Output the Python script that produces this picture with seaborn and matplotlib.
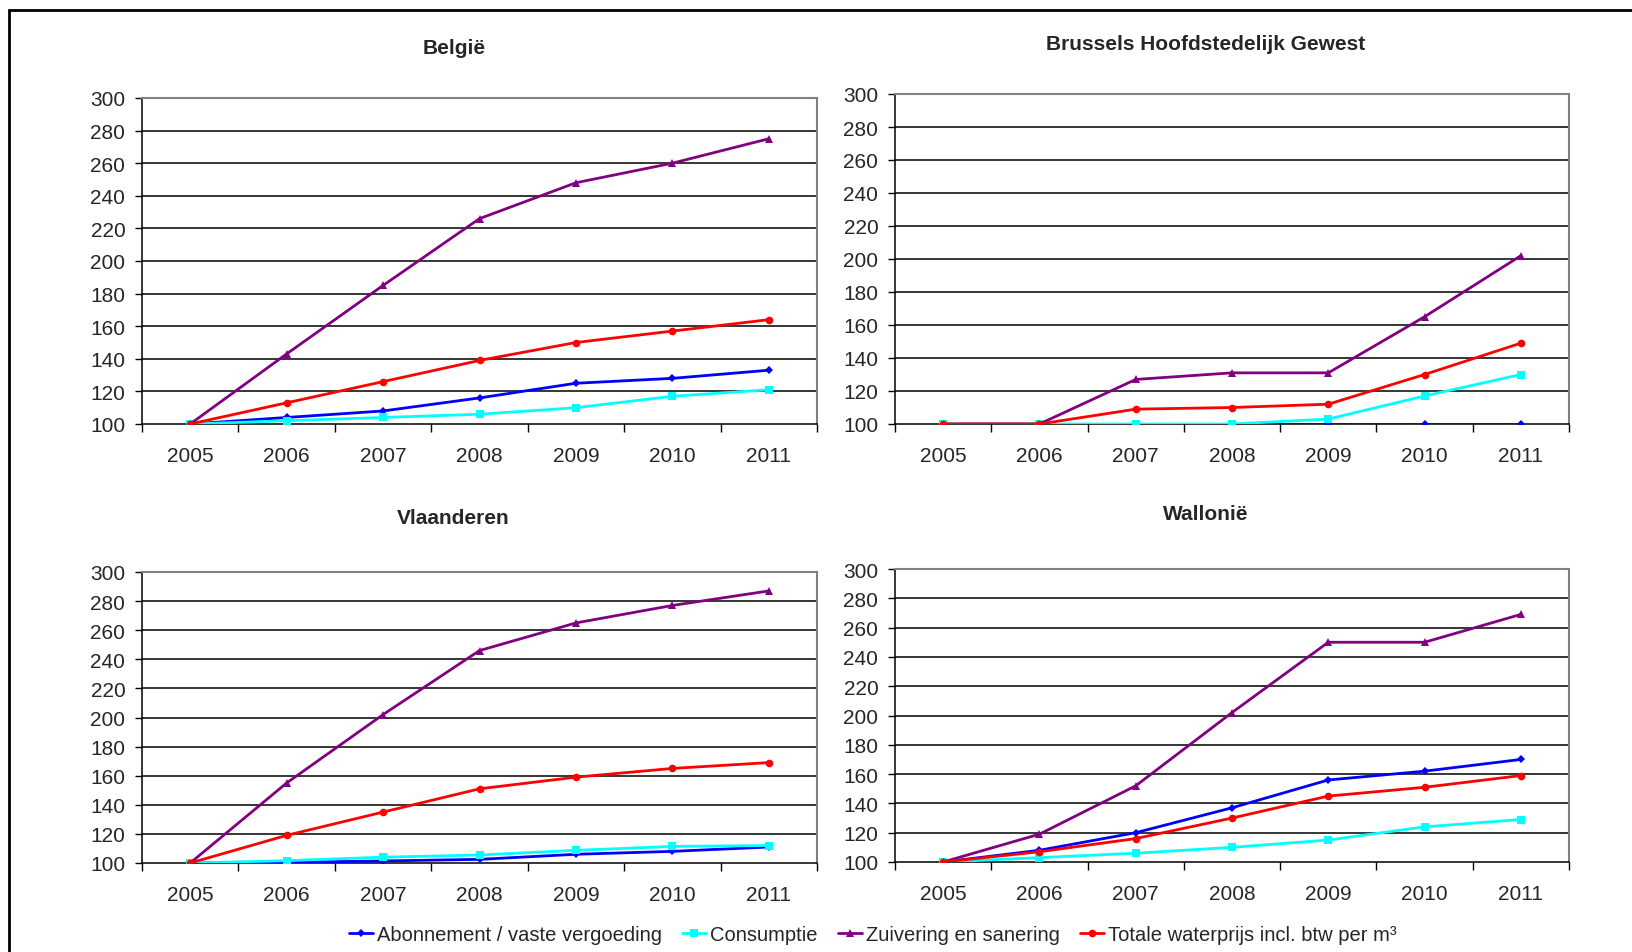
import matplotlib
matplotlib.use("Agg")
import matplotlib.pyplot as plt
from matplotlib.patches import Rectangle
from matplotlib.lines import Line2D
import numpy as np
import pandas as pd
import seaborn as sns

# Index 2005 = 100
years = [2005, 2006, 2007, 2008, 2009, 2010, 2011]
series_names = [
    "Abonnement / vaste vergoeding",
    "Consumptie",
    "Zuivering en sanering",
    "Totale waterprijs incl. btw per m³",
]
regions = ["België", "Brussels Hoofdstedelijk Gewest", "Vlaanderen", "Wallonië"]

belgie_abonnement = [100, 104, 108, 116, 125, 128, 133]
belgie_consumptie = [100, 102, 104, 106, 110, 117, 121]
belgie_zuivering = [100, 143, 185, 226, 248, 260, 275]
belgie_totaal = [100, 113, 126, 139, 150, 157, 164]

brussel_abonnement = [100, 100, 100, 100, 100, 100, 100]
brussel_consumptie = [100, 100, 100, 100, 103, 117, 130]
brussel_zuivering = [100, 100, 127, 131, 131, 165, 202]
brussel_totaal = [100, 100, 109, 110, 112, 130, 149]

vlaanderen_abonnement = [100, 100.5, 101.4, 102.5, 106, 108, 111]
vlaanderen_consumptie = [100, 101.6, 104, 105.5, 108.7, 111.4, 112]
vlaanderen_zuivering = [100, 155, 202, 246, 265, 277, 287]
vlaanderen_totaal = [100, 119, 135, 151, 159, 165, 169]

wallonie_abonnement = [100, 108, 120, 137, 156, 162, 170]
wallonie_consumptie = [100, 103, 106, 110, 115, 124, 129]
wallonie_zuivering = [100, 119, 152, 202, 250, 250, 269]
wallonie_totaal = [100, 107, 116, 130, 145, 151, 159]

region_values = {
    "België": [belgie_abonnement, belgie_consumptie, belgie_zuivering, belgie_totaal],
    "Brussels Hoofdstedelijk Gewest": [brussel_abonnement, brussel_consumptie, brussel_zuivering, brussel_totaal],
    "Vlaanderen": [vlaanderen_abonnement, vlaanderen_consumptie, vlaanderen_zuivering, vlaanderen_totaal],
    "Wallonië": [wallonie_abonnement, wallonie_consumptie, wallonie_zuivering, wallonie_totaal],
}

colors = ["#0000FF", "#00FFFF", "#800080", "#FF0000"]
markers = ["D", "s", "^", "o"]
marker_sizes = [4, 6, 5.5, 5.5]

rows = []
for reg in regions:
    for name, vals in zip(series_names, region_values[reg]):
        for y, v in zip(years, vals):
            rows.append({"regio": reg, "reeks": name, "jaar": y, "index": v})
df = pd.DataFrame(rows)

sns.set_theme(style="white")
plt.rcParams["font.family"] = ["Liberation Sans", "DejaVu Sans"]

W, H = 1633, 953
fig = plt.figure(figsize=(W / 100, H / 100), dpi=100)

# axes rectangles in pixels: left, top, right, bottom
boxes = {
    "België": (142, 99, 817, 425),
    "Brussels Hoofdstedelijk Gewest": (895, 95, 1569, 425),
    "Vlaanderen": (142, 573, 817, 864),
    "Wallonië": (895, 570, 1569, 863),
}
title_pos = {
    "België": (454, 48),
    "Brussels Hoofdstedelijk Gewest": (1206, 45),
    "Vlaanderen": (453, 518),
    "Wallonië": (1206, 514),
}

palette = dict(zip(series_names, colors))
marker_map = dict(zip(series_names, markers))

for reg in regions:
    l, t, r, b = boxes[reg]
    ax = fig.add_axes([l / W, 1 - b / H, (r - l) / W, (b - t) / H])
    sub = df[df["regio"] == reg]
    for name, ms in zip(series_names, marker_sizes):
        sns.lineplot(
            data=sub[sub["reeks"] == name], x="jaar", y="index", ax=ax,
            color=palette[name], marker=marker_map[name], markersize=ms,
            markeredgewidth=0, linewidth=2, legend=False, zorder=3,
        )
    ax.set_xlim(2004.5, 2011.5)
    ax.set_ylim(100, 300)
    ax.set_yticks(np.arange(100, 301, 20))
    ax.set_xticks(years)
    ax.set_xticks(np.arange(2004.5, 2011.6, 1), minor=True)
    ax.set_xlabel("")
    ax.set_ylabel("")
    ax.grid(False)
    for yv in np.arange(120, 300, 20):
        ax.axhline(yv, color="black", linewidth=1.1, zorder=1)
    ax.tick_params(axis="x", which="major", length=0, pad=16, labelsize=15)
    ax.tick_params(axis="x", which="minor", length=6, width=1, color="black", direction="out", bottom=True)
    ax.tick_params(axis="y", which="major", length=5, width=1, color="black", direction="out",
                   left=True, pad=7, labelsize=15)
    for s in ["left", "bottom"]:
        ax.spines[s].set_color("black")
        ax.spines[s].set_linewidth(1.1)
    for s in ["top", "right"]:
        ax.spines[s].set_color("#808080")
        ax.spines[s].set_linewidth(1.5)
    tx, ty = title_pos[reg]
    fig.text(tx / W, 1 - ty / H, reg, ha="center", va="center", fontsize=15, fontweight="bold")

handles = [
    Line2D([0], [0], color=c, marker=m, markersize=ms, markeredgewidth=0, linewidth=2)
    for c, m, ms in zip(colors, markers, marker_sizes)
]
fig.legend(handles, series_names, loc="center", bbox_to_anchor=(873 / W, 1 - 936 / H),
           ncol=4, frameon=False, fontsize=14.5, handlelength=1.2, handletextpad=0.2,
           columnspacing=1.0)

# outer frame of the figure
fig.patches.append(Rectangle((9 / W, -0.05), 1.1, (H - 11) / H + 0.05, transform=fig.transFigure,
                             fill=False, edgecolor="black", linewidth=2, zorder=10))

fig.savefig("out.png", dpi=100)
